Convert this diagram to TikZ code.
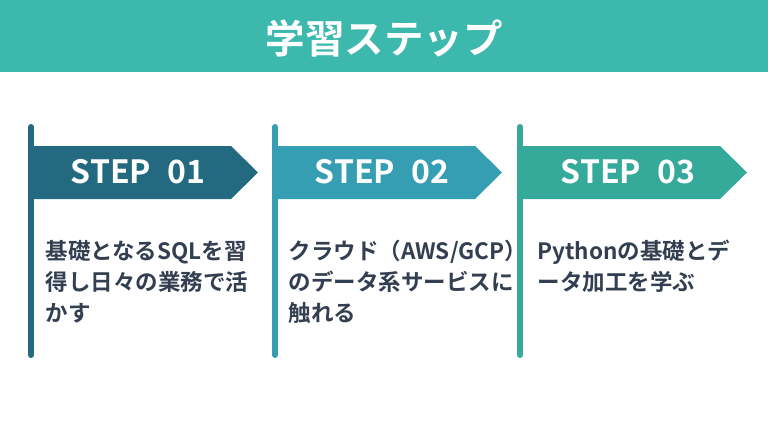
\documentclass[tikz,border=0pt]{standalone}
\usepackage{fontspec}
\setmainfont{Noto Sans CJK JP}[BoldFont={Noto Sans CJK JP Bold}]
\usetikzlibrary{positioning}
\definecolor{cbar}{HTML}{3CB8AD}
\definecolor{cstepa}{HTML}{236A80}
\definecolor{cstepb}{HTML}{359EB3}
\definecolor{cstepc}{HTML}{35AA9B}
\definecolor{ctext}{HTML}{333F50}
\tikzset{
  every picture/.style={line width=1pt},
  pole/.style={draw=#1, line width=6pt, line cap=round},
  banner/.style={fill=#1},
  title/.style={font=\bfseries\fontsize{39.5}{46}\selectfont, text=white},
  steplabel/.style={font=\bfseries\fontsize{32}{38}\selectfont, text=white, inner sep=0pt},
  desc/.style={font=\bfseries\fontsize{22.5}{31}\selectfont, text=ctext, align=left, anchor=base west, inner sep=0pt},
}
\begin{document}
\begin{tikzpicture}[x=1pt, y=1pt]
  \useasboundingbox (0,0) rectangle (768,432);
  % title bar
  \fill[cbar] (0,360) rectangle (768,432);
  \node[title] (title) at (384,394) {学習ステップ};
  % step 01
  \fill[banner=cstepa] (31,286) -- ++(200,0) -- ++(27,-26.5) -- ++(-27,-26.5) -- ++(-200,0) -- cycle;
  \draw[pole=cstepa] (31,305) -- (31,77);
  \node[steplabel] (step1) at (138,260) {STEP\enspace 01};
  % base anchor sits on the last line
  \node[desc] (desc1) at (45,110.5) {基礎となるSQLを習\\得し日々の業務で活\\かす};
  % step 02
  \fill[banner=cstepb] (275,286) -- ++(200,0) -- ++(27,-26.5) -- ++(-27,-26.5) -- ++(-200,0) -- cycle;
  \draw[pole=cstepb] (275,305) -- (275,77);
  \node[steplabel] (step2) at (382,260) {STEP\enspace 02};
  \node[desc] (desc2) at (288,110.5) {クラウド（AWS/GCP）\\のデータ系サービスに\\触れる};
  % step 03
  \fill[banner=cstepc] (520,286) -- ++(200,0) -- ++(27,-26.5) -- ++(-27,-26.5) -- ++(-200,0) -- cycle;
  \draw[pole=cstepc] (520,305) -- (520,77);
  \node[steplabel] (step3) at (628,260) {STEP\enspace 03};
  \node[desc] (desc3) at (537,141.5) {Pythonの基礎とデ\\ータ加工を学ぶ};
\end{tikzpicture}
\end{document}
